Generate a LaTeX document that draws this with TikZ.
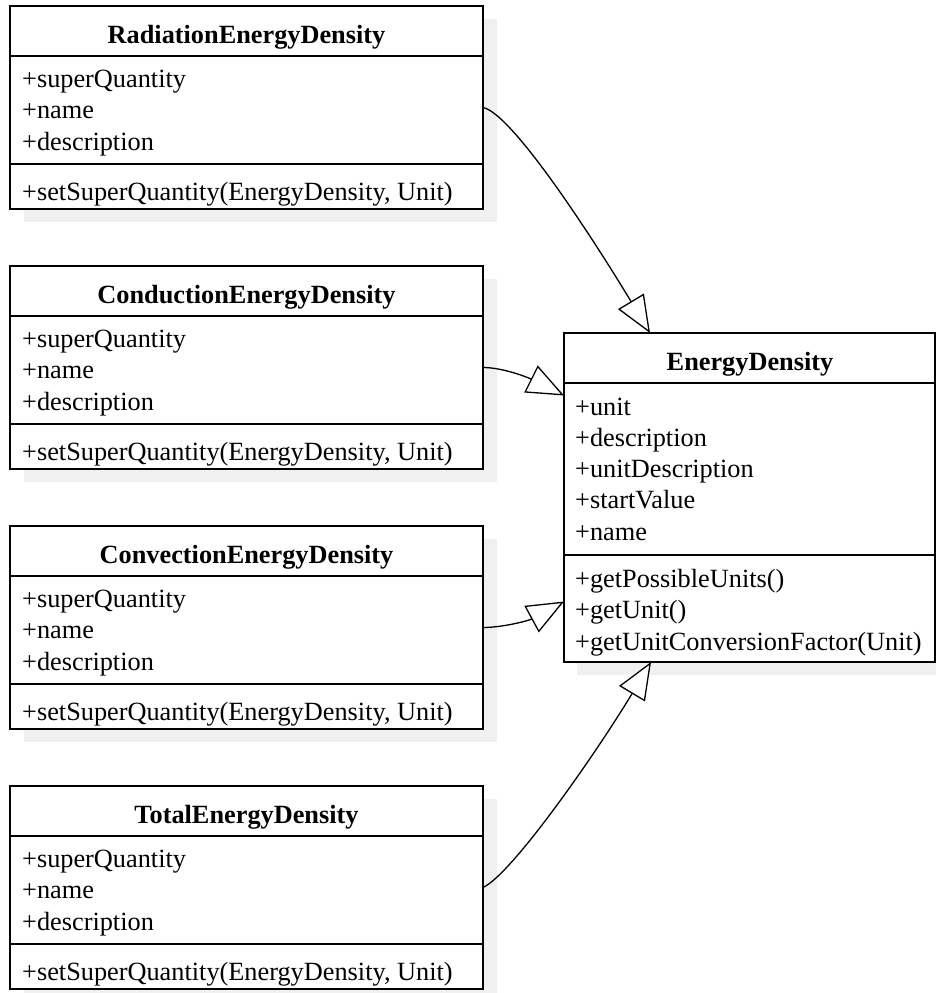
\documentclass[tikz,border=0pt]{standalone}
\usepackage{fontspec}
\setmainfont{Liberation Serif}
\usepackage{tikz}
\usetikzlibrary{arrows.meta}
\definecolor{ombre}{RGB}{240,240,240}

\tikzset{
  classe/.style={draw, line width=1.8pt, fill=white, anchor=north west, inner sep=0pt, outer sep=0pt},
  titre/.style={anchor=base, inner sep=0pt, font=\fontsize{26.3}{31.5}\selectfont\bfseries},
  membre/.style={anchor=base west, inner sep=0pt},
  herite/.style={line width=1.3pt, -{Triangle[length=37pt, width=30pt, fill=white]}}
}

\begin{document}
\begin{tikzpicture}[x=1pt, y=-1pt, font=\fontsize{26.3}{31.5}\selectfont]
\useasboundingbox (0,0) rectangle (936,993);
% sous-classes a gauche
\foreach \id/\nom/\y in {rad/Radiation/6, cond/Conduction/266, conv/Convection/526, tot/Total/786} {
  \fill[ombre] (24,\y+13) rectangle (497,\y+216);
  \node[classe, minimum width=473pt, minimum height=203pt] (\id) at (10,\y) {};
  \draw[line width=1.8pt] (10,\y+50) -- (483,\y+50) (10,\y+158) -- (483,\y+158);
  \node[titre] (\id-t) at (246.5,\y+37) {\nom EnergyDensity};
  \foreach \m [count=\k] in {superQuantity,name,description}
    \node[membre] (\id-a\k) at (22,\y+81+31.5*\k-31.5) {+\m};
  \node[membre] (\id-m) at (22,\y+194) {+setSuperQuantity(EnergyDensity, Unit)};
}
% classe mere
\fill[ombre] (577,346) rectangle (948,675);
\node[classe, minimum width=371pt, minimum height=329pt] (ed) at (564,333) {};
\draw[line width=1.8pt] (564,383) -- (935,383) (564,555) -- (935,555);
\node[titre] (ed-t) at (750,370) {EnergyDensity};
\foreach \m [count=\k] in {unit,description,unitDescription,startValue,name}
  \node[membre] (ed-a\k) at (575,415+31.25*\k-31.25) {+\m};
\foreach \m [count=\k] in {getPossibleUnits(),getUnit(),getUnitConversionFactor(Unit)}
  \node[membre] (ed-m\k) at (575,587+31.5*\k-31.5) {+\m};
% heritage
\draw[herite] (rad.east) .. controls +(30,6) and +(-51.6,-85.7) .. ([xshift=86pt]ed.north west);
\draw[herite] (cond.east) .. controls +(20,0) and +(-36,-18) .. ([yshift=102pt]ed.west);
\draw[herite] (conv.east) .. controls +(20,0) and +(-35,19) .. ([yshift=-104pt]ed.west);
\draw[herite] (tot.east) .. controls +(30,-14) and +(-51.4,85.7) .. ([xshift=87pt]ed.south west);
\end{tikzpicture}
\end{document}
